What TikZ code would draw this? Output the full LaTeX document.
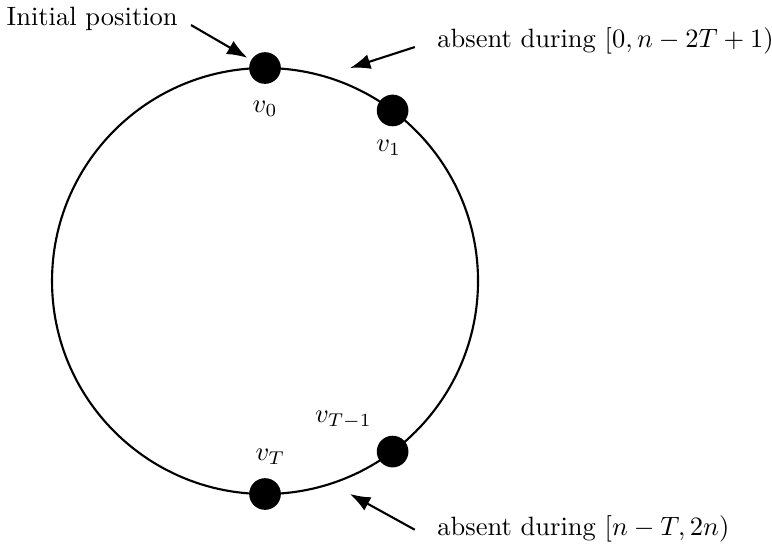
\documentclass[tikz,border=0pt]{standalone}
\usepackage{amsmath}
\usepackage{tikz}
\usetikzlibrary{arrows.meta,positioning}

\begin{document}
\begin{tikzpicture}[
  node distance=1mm,
  dot/.style={circle,fill=black,inner sep=0pt,minimum size=4.2mm},
  arrow/.style={-{Latex[length=2.7mm,width=2mm]},thick}
]
\def\R{2.825}
\useasboundingbox (-3.515,-3.568) rectangle (6.724,3.727);
\draw[thick] (0,0) circle (\R);
\node[dot] (v0) at (90:\R) {};
\node[dot] (v1) at (53.2:\R) {};
\node[dot] (vTm) at (-53.2:\R) {};
\node[dot] (vT) at (-90:\R) {};
\node[below=of v0] (lv0) {$v_0$};
\node[below=0.5mm of v1,xshift=-1.5pt] (lv1) {$v_1$};
\node[above left=0.3mm and 0mm of vTm] (lvTm) {$v_{T-1}$};
\node[above=0.5mm of vT,xshift=2pt] (lvT) {$v_T$};
\node[anchor=base east] (init) at (-1.034,3.395) {Initial position};
\node[anchor=base west] (gap0) at (2.162,3.103) {absent during $[0,n-2T+1)$};
\node[anchor=base west] (gapT) at (2.162,-3.369) {absent during $[n-T,2n)$};
\coordinate (tip0) at (1.127,\R);
\coordinate (tipT) at (1.127,-\R);
\draw[arrow,shorten >=1.5pt] ([xshift=1.5pt]init.base east) -- (v0);
\draw[arrow] ([xshift=-5pt]gap0.base west) -- (tip0);
\draw[arrow] ([xshift=-5pt,yshift=2pt]gapT.base west) -- (tipT);
\end{tikzpicture}
\end{document}
